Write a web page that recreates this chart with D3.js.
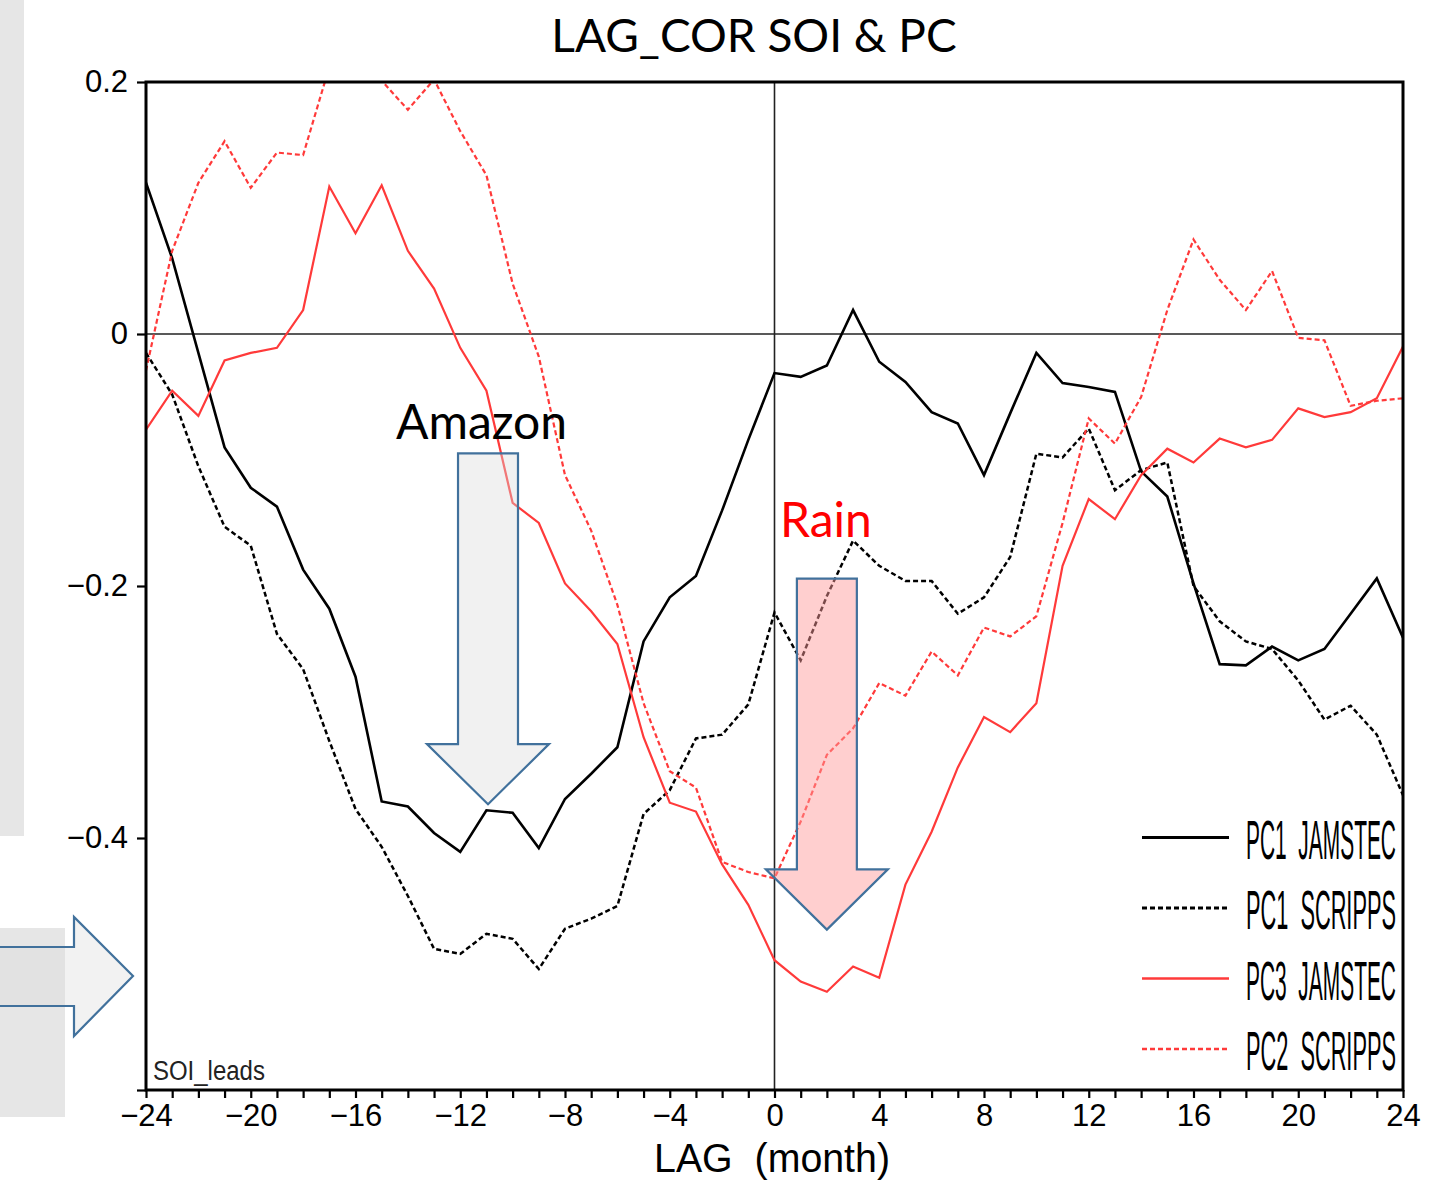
<!DOCTYPE html>
<html>
<head>
<meta charset="utf-8">
<script src="https://cdn.jsdelivr.net/npm/d3@7"></script>
<style>
  body { margin: 0; background: #ffffff; }
  svg { display: block; }
  .grads { font-family: "Liberation Sans", Arial, sans-serif; white-space: pre; }
</style>
</head>
<body>
<svg id="chart" width="1452" height="1184"></svg>
<script>
// Lag (months) of the SOI relative to each principal component
const lags = [-24,-23,-22,-21,-20,-19,-18,-17,-16,-15,-14,-13,-12,-11,-10,-9,-8,-7,-6,-5,-4,-3,-2,-1,
              0,1,2,3,4,5,6,7,8,9,10,11,12,13,14,15,16,17,18,19,20,21,22,23,24];

// Lagged correlations, one value per lag
const pc1Jamstec = [0.120,0.060,-0.015,-0.090,-0.122,-0.137,-0.187,-0.218,-0.272,-0.371,-0.375,-0.396,-0.411,-0.378,-0.380,-0.408,-0.369,-0.349,-0.328,-0.244,-0.209,-0.192,-0.140,-0.084,
                    -0.031,-0.034,-0.025,0.019,-0.022,-0.038,-0.062,-0.071,-0.112,-0.063,-0.015,-0.039,-0.042,-0.046,-0.109,-0.129,-0.198,-0.262,-0.263,-0.248,-0.259,-0.250,-0.222,-0.194,-0.241];
const pc1Scripps = [-0.015,-0.048,-0.105,-0.153,-0.168,-0.238,-0.266,-0.323,-0.377,-0.407,-0.446,-0.488,-0.492,-0.476,-0.480,-0.504,-0.472,-0.464,-0.454,-0.381,-0.362,-0.321,-0.318,-0.294,
                    -0.221,-0.259,-0.208,-0.164,-0.184,-0.196,-0.196,-0.222,-0.209,-0.177,-0.095,-0.098,-0.075,-0.124,-0.108,-0.102,-0.200,-0.228,-0.244,-0.250,-0.275,-0.306,-0.295,-0.318,-0.366];
const pc3Jamstec = [-0.076,-0.045,-0.065,-0.021,-0.015,-0.011,0.019,0.117,0.080,0.118,0.066,0.036,-0.011,-0.045,-0.134,-0.150,-0.198,-0.220,-0.246,-0.320,-0.372,-0.379,-0.421,-0.453,
                    -0.497,-0.514,-0.522,-0.502,-0.511,-0.437,-0.395,-0.344,-0.304,-0.316,-0.293,-0.184,-0.131,-0.147,-0.112,-0.091,-0.102,-0.083,-0.090,-0.084,-0.059,-0.066,-0.062,-0.051,-0.010];
const pc2Scripps = [-0.029,0.066,0.120,0.153,0.116,0.144,0.142,0.212,0.225,0.201,0.178,0.202,0.161,0.126,0.040,-0.018,-0.112,-0.156,-0.215,-0.293,-0.347,-0.360,-0.419,-0.427,
                    -0.432,-0.387,-0.334,-0.313,-0.277,-0.287,-0.252,-0.271,-0.233,-0.240,-0.224,-0.150,-0.067,-0.087,-0.050,0.019,0.075,0.043,0.019,0.050,-0.003,-0.005,-0.057,-0.053,-0.051];

const seriesNames = ["PC1  JAMSTEC", "PC1  SCRIPPS", "PC3  JAMSTEC", "PC2  SCRIPPS"];

// Axis ticks and labels
const xLabelValues = [-24,-20,-16,-12,-8,-4,0,4,8,12,16,20,24];
const xLabelText   = ["\u221224","\u221220","\u221216","\u221212","\u22128","\u22124","0","4","8","12","16","20","24"];
const yTickValues  = [0.2, 0, -0.2, -0.4, -0.6];
const yLabelValues = [0.2, 0, -0.2, -0.4];
const yLabelText   = ["0.2", "0", "\u22120.2", "\u22120.4"];

const svg = d3.select("#chart");
const plot = { left: 146, top: 82, right: 1403, bottom: 1090 };

const x = d3.scaleLinear().domain([-24, 24]).range([plot.left, plot.right]);
const y = d3.scaleLinear().domain([-0.6, 0.2]).range([plot.bottom, plot.top]);

const RED = "#ff3a3a";
const series = [
  { name: seriesNames[0], values: pc1Jamstec, color: "#000000", dash: null,  width: 2.6 },
  { name: seriesNames[1], values: pc1Scripps, color: "#000000", dash: "5,3", width: 2.5 },
  { name: seriesNames[2], values: pc3Jamstec, color: RED,       dash: null,  width: 2.2 },
  { name: seriesNames[3], values: pc2Scripps, color: RED,       dash: "5,3", width: 2.2 }
];

// Condensed plotter-style text: drawn at a natural size, then squeezed
// horizontally to the wanted width with a transform.
function squeezedText(parent, str, px, py, size, width, opts = {}) {
  const g = parent.append("g").attr("transform", `translate(${px},${py})`);
  const t = g.append("text").attr("class", "grads")
    .attr("x", 0).attr("y", 0)
    .style("font-size", size + "px")
    .style("font-weight", opts.weight || "normal")
    .attr("fill", opts.fill || "#000")
    .attr("text-anchor", opts.anchor || "start")
    .text(str);
  const natural = t.node().getComputedTextLength();
  t.attr("transform", `scale(${width / natural},1)`);
  return g;
}

// ---- slide backdrop on the left edge ----
svg.append("rect").attr("x", 0).attr("y", 0).attr("width", 24).attr("height", 836).attr("fill", "#e6e6e6");
svg.append("rect").attr("x", 0).attr("y", 928).attr("width", 65).attr("height", 189).attr("fill", "#e6e6e6");
svg.append("path")
  .attr("d", "M-5,947 L74,947 L74,917 L133,976 L74,1036 L74,1006 L-5,1006 Z")
  .attr("fill", "#d9d9d9").attr("fill-opacity", 0.35)
  .attr("stroke", "#41719c").attr("stroke-width", 2.2).attr("stroke-linejoin", "miter");

// ---- title ----
svg.append("text")
  .attr("x", 754).attr("y", 52)
  .attr("text-anchor", "middle")
  .style("font-family", "Lato, 'Open Sans', sans-serif")
  .style("font-size", "46px")
  .attr("fill", "#000")
  .text("LAG_COR SOI & PC");

// ---- clip region for the curves ----
svg.append("defs").append("clipPath").attr("id", "plotClip")
  .append("rect")
  .attr("x", plot.left).attr("y", plot.top)
  .attr("width", plot.right - plot.left).attr("height", plot.bottom - plot.top);

// ---- zero reference lines ----
svg.append("line")
  .attr("x1", plot.left).attr("x2", plot.right)
  .attr("y1", y(0)).attr("y2", y(0))
  .attr("stroke", "#222").attr("stroke-width", 1.6);
svg.append("line")
  .attr("x1", x(0)).attr("x2", x(0))
  .attr("y1", plot.top).attr("y2", plot.bottom)
  .attr("stroke", "#222").attr("stroke-width", 1.6);

// ---- correlation curves ----
const line = d3.line().x((d, i) => x(lags[i])).y(d => y(d));
const curves = svg.append("g").attr("clip-path", "url(#plotClip)");
series.forEach(s => {
  curves.append("path")
    .datum(s.values)
    .attr("d", line)
    .attr("fill", "none")
    .attr("stroke", s.color)
    .attr("stroke-width", s.width)
    .attr("stroke-dasharray", s.dash)
    .attr("stroke-linejoin", "miter");
});

// ---- annotation block arrows (lag / correlation coordinates) ----
function blockArrow(a) {
  const pts = [
    [a.lag - a.shaft, a.top], [a.lag + a.shaft, a.top], [a.lag + a.shaft, a.neck],
    [a.lag + a.head, a.neck], [a.lag, a.tip], [a.lag - a.head, a.neck], [a.lag - a.shaft, a.neck]
  ].map(p => [x(p[0]), y(p[1])]);
  return d3.line()(pts) + "Z";
}
const amazonArrow = { lag: -10.94, shaft: 1.145, head: 2.33, top: -0.0947, neck: -0.3255, tip: -0.3732 };
const rainArrow   = { lag: 2.0,    shaft: 1.145, head: 2.33, top: -0.1942, neck: -0.4249, tip: -0.4727 };

svg.append("path").attr("d", blockArrow(amazonArrow))
  .attr("fill", "#d9d9d9").attr("fill-opacity", 0.38)
  .attr("stroke", "#41719c").attr("stroke-width", 2.2);
svg.append("path").attr("d", blockArrow(rainArrow))
  .attr("fill", "#ff9a9a").attr("fill-opacity", 0.48)
  .attr("stroke", "#41719c").attr("stroke-width", 2.2);

svg.append("text").attr("x", 396).attr("y", 439)
  .style("font-family", "Lato, 'Open Sans', sans-serif").style("font-size", "48px")
  .attr("fill", "#000").text("Amazon");
svg.append("text").attr("x", 780).attr("y", 537)
  .style("font-family", "Lato, 'Open Sans', sans-serif").style("font-size", "48px")
  .attr("fill", "#ff0000").text("Rain");

// ---- axes ----
const labelOf = new Map(xLabelValues.map((v, i) => [v, xLabelText[i]]));
const xAxis = d3.axisBottom(x)
  .tickValues(lags)
  .tickSize(8)
  .tickPadding(6)
  .tickFormat(d => labelOf.has(d) ? labelOf.get(d) : "");
const gx = svg.append("g").attr("transform", `translate(0,${plot.bottom})`).call(xAxis);
gx.select(".domain").remove();
gx.selectAll(".tick line").attr("stroke", "#000").attr("stroke-width", 2.2);
gx.selectAll(".tick text")
  .attr("class", "grads")
  .attr("fill", "#000")
  .style("font-size", "31px");

const yLab = new Map(yLabelValues.map((v, i) => [v, yLabelText[i]]));
const yAxis = d3.axisLeft(y)
  .tickValues(yTickValues)
  .tickSize(9)
  .tickPadding(9)
  .tickFormat(d => yLab.has(d) ? yLab.get(d) : "");
const gy = svg.append("g").attr("transform", `translate(${plot.left},0)`).call(yAxis);
gy.select(".domain").remove();
gy.selectAll(".tick line").attr("stroke", "#000").attr("stroke-width", 2.2);
gy.selectAll(".tick text")
  .attr("class", "grads")
  .attr("fill", "#000")
  .style("font-size", "31px");

// plot frame
svg.append("rect")
  .attr("x", plot.left).attr("y", plot.top)
  .attr("width", plot.right - plot.left).attr("height", plot.bottom - plot.top)
  .attr("fill", "none").attr("stroke", "#000").attr("stroke-width", 3);

// x axis title
squeezedText(svg, "LAG  (month)", 772, 1172, 40, 236, { anchor: "middle" });

// run label inside the frame
squeezedText(svg, "SOI_leads", 153, 1080, 28, 112, { weight: "300", fill: "#222" });

// ---- legend ----
const legend = svg.append("g");
series.forEach((s, i) => {
  const ly = 837.5 + i * 70.5;
  legend.append("line")
    .attr("x1", 1142).attr("x2", 1229)
    .attr("y1", ly).attr("y2", ly)
    .attr("stroke", s.color).attr("stroke-width", s.width + 0.4)
    .attr("stroke-dasharray", s.dash);
  squeezedText(legend, s.name, 1246, ly + 21, 56, 150, { weight: "300" });
});
</script>
</body>
</html>
